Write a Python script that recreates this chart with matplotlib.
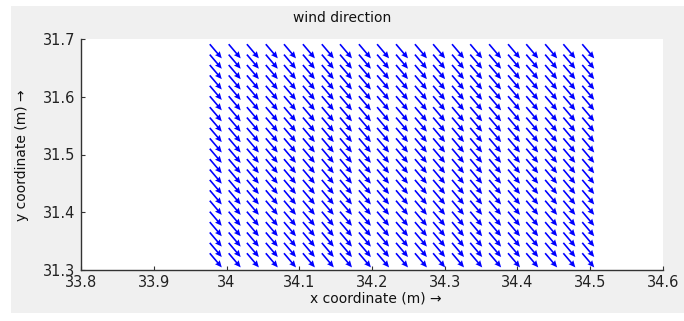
import matplotlib
matplotlib.use('Agg')
import matplotlib.pyplot as plt
from matplotlib.patches import Rectangle
import numpy as np

# grid of arrow base points
x_pts = [33.977, 34.003, 34.028, 34.054, 34.079, 34.105, 34.131, 34.156,
         34.182, 34.207, 34.233, 34.259, 34.284, 34.310, 34.335, 34.361,
         34.387, 34.412, 34.438, 34.463, 34.489]
y_pts = [31.329, 31.347, 31.365, 31.383, 31.401, 31.420, 31.438, 31.456,
         31.474, 31.492, 31.510, 31.528, 31.546, 31.564, 31.582, 31.601,
         31.619, 31.637, 31.655, 31.673, 31.691]
# wind components (same everywhere)
u_wind = 0.0165
v_wind = -0.0245

x_ticks = [33.8, 33.9, 34.0, 34.1, 34.2, 34.3, 34.4, 34.5, 34.6]
x_ticklabels = ['33.8', '33.9', '34', '34.1', '34.2', '34.3', '34.4', '34.5', '34.6']
y_ticks = [31.3, 31.4, 31.5, 31.6, 31.7]

W, H = 684, 321
fig = plt.figure(figsize=(W / 100, H / 100), dpi=100, facecolor='white')
fig.patches.append(Rectangle((11 / W, 1 - 313 / H), 1 - 11 / W, (313 - 6) / H,
                             transform=fig.transFigure, facecolor='#f0f0f0',
                             edgecolor='none', zorder=-1))

ax = fig.add_axes([81 / W, 1 - 270 / H, (663 - 81) / W, (270 - 39) / H])
ax.set_facecolor('white')

X, Y = np.meshgrid(x_pts, y_pts)
U = np.full(X.shape, u_wind)
V = np.full(X.shape, v_wind)
ax.quiver(X, Y, U, V, angles='xy', scale_units='xy', scale=1, pivot='tail',
          color='#0000ff', width=0.0028, headwidth=3.8, headlength=4.2,
          headaxislength=3.8)

ax.set_xlim(33.8, 34.6)
ax.set_ylim(31.3, 31.7)
ax.set_xticks(x_ticks)
ax.set_xticklabels(x_ticklabels)
ax.set_yticks(y_ticks)
ax.set_yticklabels(['31.3', '31.4', '31.5', '31.6', '31.7'])

for s in ['top', 'right']:
    ax.spines[s].set_visible(False)
for s in ['left', 'bottom']:
    ax.spines[s].set_color('#333333')
    ax.spines[s].set_linewidth(1.0)

ax.tick_params(axis='both', direction='in', length=3, width=0.8, colors='#333333',
               labelsize=10.5, labelcolor='#222222')
ax.tick_params(axis='x', pad=3.5)
ax.tick_params(axis='y', pad=4)

fig.text(0.5, 1 - 18 / H, 'wind direction', ha='center', va='center', fontsize=10,
         color='#111111')
fig.text(376 / W, 1 - 299 / H, 'x coordinate (m) \u2192', ha='center', va='center',
         fontsize=10, color='#111111')
fig.text(22 / W, 1 - 155 / H, 'y coordinate (m) \u2192', ha='center', va='center',
         rotation=90, fontsize=10, color='#111111')

fig.savefig('out.png', dpi=100, facecolor=fig.get_facecolor())
